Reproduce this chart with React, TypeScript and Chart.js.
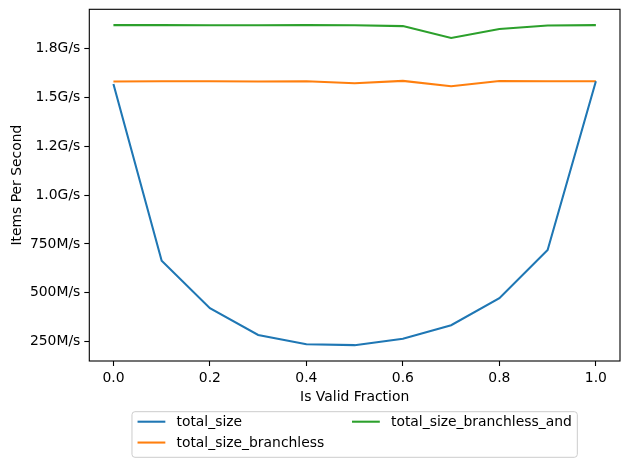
import React, { useEffect, useRef } from 'react';
import { Chart, registerables } from 'chart.js';
Chart.register(...registerables);

const fractions = [0, 0.1, 0.2, 0.3, 0.4, 0.5, 0.6, 0.7, 0.8, 0.9, 1.0];
// values in millions of items per second
const totalSize = [1568, 664, 421, 284, 237, 232, 265, 334, 472, 719, 1582];
const totalSizeBranchless = [1581, 1582, 1582, 1581, 1582, 1572, 1584, 1556, 1583, 1582, 1582];
const totalSizeBranchlessAnd = [1869, 1869, 1868, 1868, 1869, 1868, 1864, 1803, 1849, 1867, 1869];

const seriesNames = ['total_size', 'total_size_branchless', 'total_size_branchless_and'];
const seriesColors = ['#1f77b4', '#ff7f0e', '#2ca02c'];

const xTickValues = [0, 0.2, 0.4, 0.6, 0.8, 1.0];
const xTickLabels = ['0.0', '0.2', '0.4', '0.6', '0.8', '1.0'];
const yTickValues = [250, 500, 750, 1000, 1250, 1500, 1750];
const yTickLabels = ['250M/s', '500M/s', '750M/s', '1.0G/s', '1.2G/s', '1.5G/s', '1.8G/s'];

const FONT = 'DejaVu Sans';
const FS = 13.9;

const framePlugin = {
  id: 'mplFrame',
  afterDraw(chart: any) {
    const { ctx, chartArea } = chart;
    ctx.save();
    ctx.strokeStyle = '#000';
    ctx.lineWidth = 1.1;
    ctx.strokeRect(chartArea.left, chartArea.top, chartArea.right - chartArea.left, chartArea.bottom - chartArea.top);
    ctx.restore();
  },
};

const legendPlugin = {
  id: 'mplLegend',
  afterDraw(chart: any) {
    const { ctx, chartArea } = chart;
    ctx.save();
    ctx.font = `${FS}px "${FONT}"`;
    const handle = 2 * FS;
    const hpad = 0.8 * FS;
    const colSpace = 2 * FS;
    const bpad = 0.4 * FS;
    const rowGap = 1.5 * FS;
    const col1W = Math.max(ctx.measureText(seriesNames[0]).width, ctx.measureText(seriesNames[1]).width);
    const col2W = ctx.measureText(seriesNames[2]).width;
    const W = 2 * bpad + handle + hpad + col1W + colSpace + handle + hpad + col2W;
    const H = 45.6;
    const cx = (chartArea.left + chartArea.right) / 2;
    const left = cx - W / 2;
    const top = 411.7;
    const r = 3;
    ctx.beginPath();
    ctx.moveTo(left + r, top);
    ctx.lineTo(left + W - r, top);
    ctx.quadraticCurveTo(left + W, top, left + W, top + r);
    ctx.lineTo(left + W, top + H - r);
    ctx.quadraticCurveTo(left + W, top + H, left + W - r, top + H);
    ctx.lineTo(left + r, top + H);
    ctx.quadraticCurveTo(left, top + H, left, top + H - r);
    ctx.lineTo(left, top + r);
    ctx.quadraticCurveTo(left, top, left + r, top);
    ctx.closePath();
    ctx.fillStyle = 'rgba(255,255,255,0.8)';
    ctx.fill();
    ctx.strokeStyle = '#cccccc';
    ctx.lineWidth = 1;
    ctx.stroke();

    const items = [
      { col: 0, row: 0, i: 0 },
      { col: 0, row: 1, i: 1 },
      { col: 1, row: 0, i: 2 },
    ];
    ctx.textBaseline = 'middle';
    ctx.textAlign = 'left';
    for (const it of items) {
      const x0 = left + bpad + (it.col === 1 ? handle + hpad + col1W + colSpace : 0);
      const y = top + 10 + it.row * rowGap;
      ctx.strokeStyle = seriesColors[it.i];
      ctx.lineWidth = 2.08;
      ctx.beginPath();
      ctx.moveTo(x0, y);
      ctx.lineTo(x0 + handle, y);
      ctx.stroke();
      ctx.fillStyle = '#000';
      ctx.fillText(seriesNames[it.i], x0 + handle + hpad, y + 0.5);
    }
    ctx.restore();
  },
};

export default function App() {
  const ref = useRef<HTMLCanvasElement>(null);
  useEffect(() => {
    if (!ref.current) return;
    const series = [totalSize, totalSizeBranchless, totalSizeBranchlessAnd];
    const chart = new Chart(ref.current, {
      type: 'line',
      data: {
        datasets: series.map((vals, i) => ({
          label: seriesNames[i],
          data: fractions.map((f, j) => ({ x: f, y: vals[j] })),
          borderColor: seriesColors[i],
          backgroundColor: seriesColors[i],
          borderWidth: 2.08,
          pointRadius: 0,
          tension: 0,
          fill: false,
        })),
      },
      options: {
        animation: false,
        responsive: false,
        devicePixelRatio: 1,
        layout: { padding: { left: 0, right: 10, top: 9.3, bottom: 61 } },
        plugins: {
          legend: { display: false },
          tooltip: { enabled: false },
        },
        scales: {
          x: {
            type: 'linear',
            min: -0.05,
            max: 1.05,
            afterBuildTicks: (s: any) => {
              s.ticks = xTickValues.map((v) => ({ value: v }));
            },
            afterFit: (s: any) => {
              s.height = 45;
              s.paddingLeft = 0;
              s.paddingRight = 0;
            },
            ticks: {
              color: '#000',
              font: { family: FONT, size: FS },
              padding: 4,
              maxRotation: 0,
              autoSkip: false,
              callback: (_v: any, i: number) => xTickLabels[i],
            },
            grid: {
              drawOnChartArea: false,
              drawTicks: true,
              tickLength: 5,
              tickColor: '#000',
              tickWidth: 1.1,
            },
            border: { display: false },
            title: {
              display: true,
              text: 'Is Valid Fraction',
              color: '#000',
              font: { family: FONT, size: FS },
              padding: { top: 0, bottom: 0 },
            },
          },
          y: {
            type: 'linear',
            min: 151,
            max: 1950,
            afterBuildTicks: (s: any) => {
              s.ticks = yTickValues.map((v) => ({ value: v }));
            },
            afterFit: (s: any) => {
              s.width = 89.3;
              s.paddingTop = 0;
              s.paddingBottom = 0;
            },
            ticks: {
              color: '#000',
              font: { family: FONT, size: FS },
              padding: 4,
              autoSkip: false,
              callback: (_v: any, i: number) => yTickLabels[i],
            },
            grid: {
              drawOnChartArea: false,
              drawTicks: true,
              tickLength: 5,
              tickColor: '#000',
              tickWidth: 1.1,
            },
            border: { display: false },
            title: {
              display: true,
              text: 'Items Per Second',
              color: '#000',
              font: { family: FONT, size: FS },
              padding: { top: 9, bottom: 0 },
            },
          },
        },
      },
      plugins: [framePlugin, legendPlugin],
    });
    return () => chart.destroy();
  }, []);
  return (
    <div style={{ position: 'fixed', left: 0, top: 0, width: 630, height: 467, background: '#fff' }}>
      <canvas ref={ref} width={630} height={467} style={{ width: 630, height: 467 }} />
    </div>
  );
}
